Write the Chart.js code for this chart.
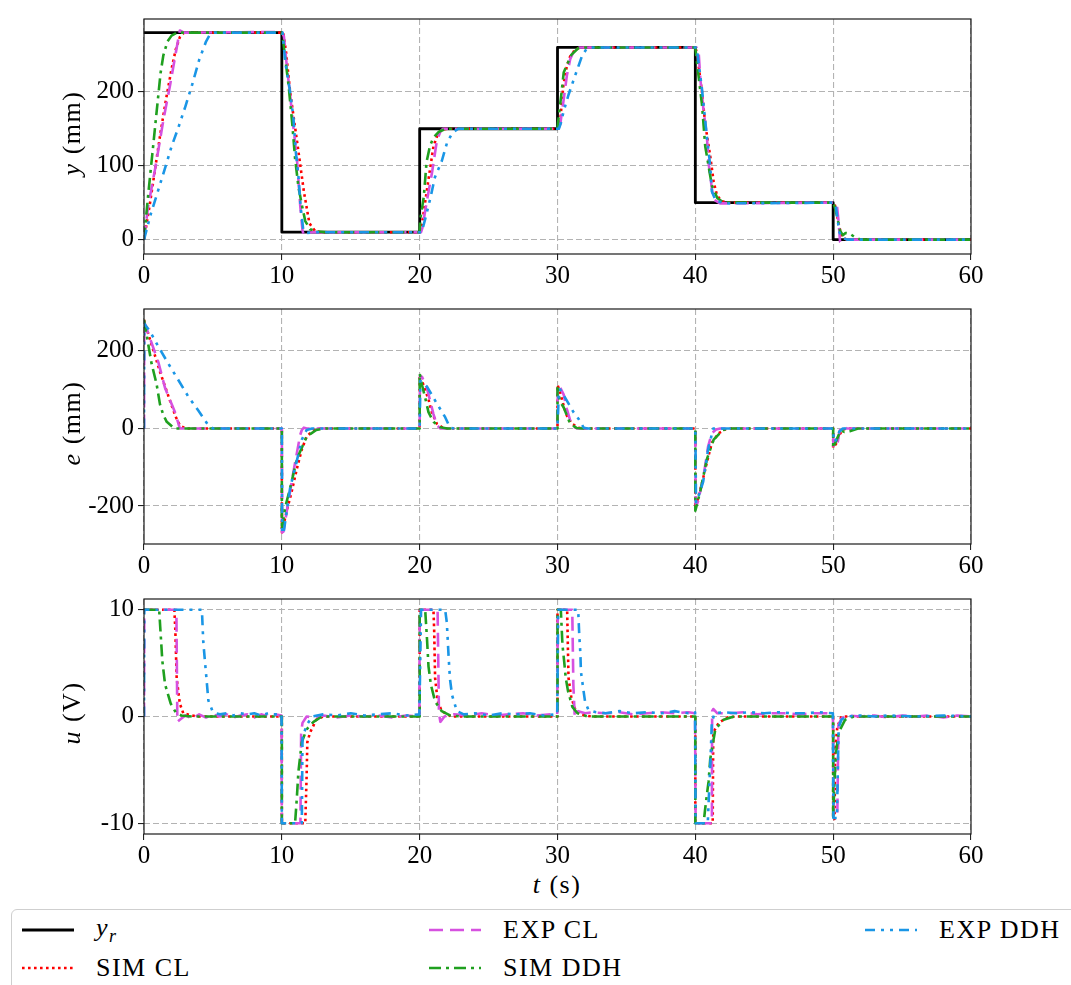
<!DOCTYPE html>
<html>
<head>
<meta charset="utf-8">
<script src="https://cdn.jsdelivr.net/npm/chart.js@4.4.1/dist/chart.umd.min.js"></script>
<style>
  html,body{margin:0;padding:0;background:#fff;}
  body{width:1071px;height:985px;position:relative;overflow:hidden;font-family:'Liberation Serif','Times New Roman',serif;color:#000;}
  canvas{position:absolute;left:0;}
  .ytitle{position:absolute;font-size:26px;letter-spacing:1.5px;white-space:nowrap;transform:translate(-50%,-50%) rotate(-90deg);}
  .xtitle{position:absolute;font-size:26px;letter-spacing:1.5px;white-space:nowrap;transform:translate(-50%,-50%);}
  #legend{position:absolute;left:11px;top:909px;width:1090px;height:120px;border:1px solid #cfcfcf;border-radius:6px;background:#fff;box-sizing:border-box;}
  .lg{position:absolute;font-size:26px;letter-spacing:1.5px;white-space:nowrap;transform:translateY(-50%);line-height:1;}
  .lgsvg{position:absolute;}
</style>
</head>
<body>
<canvas id="c1" width="1071" height="290" style="top:0px"></canvas>
<canvas id="c2" width="1071" height="290" style="top:290px"></canvas>
<canvas id="c3" width="1071" height="290" style="top:580px"></canvas>

<div class="ytitle" style="left:72px;top:133px"><i>y</i> (mm)</div>
<div class="ytitle" style="left:72px;top:423px"><i>e</i> (mm)</div>
<div class="ytitle" style="left:72px;top:713px"><i>u</i> (V)</div>
<div class="xtitle" style="left:557px;top:885px"><i>t</i> (s)</div>

<div id="legend"></div>

<script>
// ---------------- DATA ----------------
const xTicks = [0, 10, 20, 30, 40, 50, 60];
const yTicksY = [0, 100, 200];
const yTicksE = [-200, 0, 200];
const yTicksU = [-10, 0, 10];

const seriesNames = ["y_r", "SIM CL", "EXP CL", "SIM DDH", "EXP DDH"];

// reference y_r (time, value)
const refT = [0, 10, 10, 20, 20, 30, 30, 40, 40, 50, 50, 60];
const refY = [280, 280, 10, 10, 150, 150, 260, 260, 50, 50, 0, 0];

// ---- position y (mm): [t, y]
const simCL_y = [[0,0],[0.4,45],[0.8,95],[1.2,145],[1.6,190],[2.0,231],[2.3,257],[2.6,274],[2.9,280],
 [10.1,280],[10.3,255],[10.6,200],[11.2,120],[11.6,65],[12.0,22],[12.4,12],[12.8,10],
 [20.0,10],[20.1,14],[20.3,38],[20.5,64],[20.75,95],[21.0,126],[21.3,142],[21.6,149],[22.0,150],
 [30.0,150],[30.1,152],[30.2,161],[30.32,187],[30.43,209],[30.68,235],[30.92,248],[31.2,255],[31.5,259],[32.0,260],
 [40.0,260],[40.12,252],[40.48,200],[40.72,156],[41.08,113],[41.33,78],[41.57,60],[41.9,52],[42.5,50],
 [50.0,50],[50.1,48],[50.2,42],[50.39,22],[50.63,3],[51.0,0],[60,0]];
const expCL_y = [[0,0],[0.3,45],[0.8,95],[1.4,161],[1.9,210],[2.3,252],[2.6,283],[2.9,280],
 [10.0,281],[10.15,275],[10.36,235],[10.6,196],[10.84,152],[11.1,108],[11.33,47],[11.5,12],[11.6,6],[11.8,9],[12.2,10],
 [20.1,10],[20.2,16],[20.5,50],[20.9,91],[21.25,134],[21.5,146],[21.7,150],
 [30.05,150],[30.2,156],[30.43,187],[30.68,222],[30.92,244],[31.2,256],[31.5,260],
 [40.1,260],[40.23,257],[40.36,218],[40.6,174],[40.84,139],[40.96,104],[41.2,69],[41.33,54],[41.8,49],
 [50.05,50],[50.27,47],[50.39,25],[50.5,-3],[50.65,-4],[51.0,0],[60,0]];
const simDDH_y = [[0,0],[0.3,60],[0.6,115],[0.9,170],[1.2,225],[1.4,249],[1.7,268],[2.0,276],[2.4,280],
 [10.0,280],[10.1,268],[10.5,207],[10.75,158],[10.96,110],[11.2,72],[11.45,47],[11.7,25],[12.05,14],[12.6,11],[13.3,10],
 [20.0,10],[20.05,28],[20.3,58],[20.5,105],[20.75,127],[21.0,138],[21.4,146],[21.9,150],
 [30.0,150],[30.05,160],[30.3,200],[30.45,226],[30.7,237],[31.0,250],[31.5,259],[32.0,260],
 [40.0,260],[40.12,239],[40.48,183],[40.72,126],[41.2,73],[41.6,56],[42.0,51],[42.5,50],
 [50.0,50],[50.1,45],[50.3,30],[50.5,12],[50.7,6],[50.9,9],[51.2,8],[51.6,3],[52.0,0],[60,0]];
const expDDH_y = [[0,0],[0.5,35],[1.0,65],[1.5,95],[2.0,126],[2.5,152],[3.0,180],[3.5,210],[4.0,243],[4.5,268],[4.8,278],[5.1,280],
 [10.05,280],[10.25,240],[10.6,200],[10.84,165],[11.0,121],[11.2,87],[11.37,43],[11.55,14],[11.8,9],[12.4,10],
 [20.15,10],[20.5,35],[20.8,58],[21.1,84],[21.6,106],[22.0,132],[22.4,145],[22.8,150],
 [30.1,150],[30.25,158],[30.45,174],[30.8,196],[31.28,222],[31.77,248],[32.1,258],[32.4,260],
 [40.1,260],[40.24,239],[40.48,204],[40.84,139],[41.08,100],[41.2,65],[41.5,52],[42.4,49],
 [50.05,50],[50.2,44],[50.3,30],[50.45,10],[50.63,3],[51.0,0],[60,0]];

// ---- error e (mm): [t, e]
const simCL_e = [[0,280],[0.44,229],[1.16,146],[1.89,71],[2.3,30],[2.6,8],[3.0,0],
 [10.0,0],[10.0,-268],[10.36,-212],[10.72,-162],[11.09,-104],[11.45,-54],[11.8,-21],[12.3,-4],[12.8,0],
 [20.0,0],[20.0,137],[20.28,112],[20.64,75],[20.88,42],[21.25,12],[21.7,1],[22.0,0],
 [30.0,0],[30.0,112],[30.2,92],[30.45,58],[30.68,33],[31.04,12],[31.6,1],[32.0,0],
 [40.0,0],[40.0,-205],[40.05,-198],[40.45,-146],[40.84,-87],[41.2,-37],[41.7,-12],[42.2,-2],[42.5,0],
 [50.0,0],[50.0,-50],[50.2,-40],[50.4,-20],[50.7,-3],[51.0,0],[60,0]];
const expCL_e = [[0,0],[0.02,275],[0.3,246],[1.04,171],[1.53,104],[2.25,42],[2.6,0],
 [10.0,0],[10.02,-268],[10.12,-266],[10.48,-187],[10.84,-112],[11.33,-17],[11.45,-4],[11.6,2],[11.8,0],
 [20.0,0],[20.02,136],[20.17,133],[20.53,104],[20.76,71],[21.0,37],[21.25,8],[21.5,0],
 [30.0,0],[30.02,110],[30.1,112],[30.45,87],[30.68,50],[30.92,21],[31.16,4],[31.4,0],
 [40.0,0],[40.02,-195],[40.1,-197],[40.2,-187],[40.57,-129],[40.93,-46],[41.2,-12],[41.5,-3],[41.8,0],
 [50.0,0],[50.02,-48],[50.3,-42],[50.45,-10],[50.55,3],[50.7,4],[51.0,0],[60,0]];
const simDDH_e = [[0,280],[0.55,167],[0.91,115],[1.16,62],[1.4,35],[1.65,17],[2.2,0],
 [10.0,0],[10.0,-262],[10.24,-204],[10.6,-154],[11.09,-79],[11.8,-21],[12.5,-4],[13.2,0],
 [20.0,0],[20.0,142],[20.17,112],[20.4,79],[20.64,42],[21.0,17],[21.5,3],[22.0,0],
 [30.0,0],[30.0,104],[30.17,71],[30.45,54],[30.92,12],[31.4,1],[31.8,0],
 [40.0,0],[40.0,-212],[40.36,-162],[40.84,-79],[41.33,-29],[42.0,-4],[42.5,0],
 [50.0,0],[50.0,-50],[50.3,-25],[50.55,-5],[50.8,-9],[51.2,-7],[51.8,0],[60,0]];
const expDDH_e = [[0,0],[0.02,270],[0.44,250],[1.04,211],[1.8,165],[2.49,125],[3.2,83],[3.94,46],[4.67,8],[5.0,0],
 [10.0,0],[10.02,-270],[10.12,-271],[10.6,-154],[11.09,-83],[11.45,-29],[11.8,-4],[12.2,0],
 [20.0,0],[20.05,122],[20.17,121],[20.53,108],[21.2,67],[21.85,29],[22.2,2],[22.5,0],
 [30.0,0],[30.1,100],[30.2,100],[30.56,79],[31.16,42],[31.52,25],[31.9,2],[32.2,0],
 [40.0,0],[40.05,-190],[40.2,-179],[40.57,-137],[40.93,-54],[41.3,0],
 [50.0,0],[50.05,-35],[50.2,-30],[50.45,-8],[50.7,0],[60,0]];

// ---- control u (V): [t, u]
const simCL_u = [[0,10],[2.2,10],[2.27,8.2],[2.37,3.6],[2.6,1.2],[2.85,0.3],[3.8,0],
 [10.0,0],[10.0,-10],[11.7,-10],[11.8,-5.5],[11.85,-2.4],[12.05,-1.5],[12.5,-0.3],[13.0,0],
 [20.0,0],[20.0,10],[21.0,10],[21.05,8.2],[21.12,3.6],[21.3,1.5],[21.6,0.5],[22.3,0],
 [30.0,0],[30.0,10],[30.7,10],[30.75,6.7],[30.8,3.6],[31.0,1.8],[31.3,0.6],[31.7,0.15],[32.5,0],
 [40.0,0],[40.0,-10],[41.26,-10],[41.3,-1.5],[41.7,-0.6],[42.3,-0.1],[43.0,0],
 [50.0,0],[50.0,-9.6],[50.1,-9.6],[50.15,-3],[50.3,-1],[50.6,0],[60,0]];
const expCL_u = [[0,0],[0.02,10],[2.35,10],[2.42,-0.5],[2.6,-0.3],[3,0.1],[3.5,-0.2],[4,0.2],[4.5,-0.1],[5,0.2],[5.5,0],[6,0.2],[6.5,-0.1],[7,0.1],[7.5,0.2],[8,-0.1],[8.5,0.2],[9,0],[9.5,0.2],[9.98,0.1],
 [10.0,-10],[11.35,-10],[11.4,-1.5],[11.5,-0.6],[11.8,0],[12.3,-0.1],[13,0.1],[14,-0.1],[15,0.1],[16,0],[17,0.1],[18,-0.1],[19,0.1],[19.98,0],
 [20.0,10],[21.3,10],[21.4,0.3],[21.5,-0.5],[21.8,0],[22.5,0.2],[23.5,0.1],[24.5,0.3],[25.5,0.1],[26.5,0.2],[27.5,0.3],[28.5,0.1],[29.5,0.2],[29.98,0.2],
 [30.02,10],[31.07,10],[31.15,3],[31.25,0],[31.5,0.5],[32,0.3],[32.5,0.4],[33.5,0.3],[34.5,0.4],[35.5,0.2],[36.5,0.3],[37.5,0.4],[38.5,0.3],[39.5,0.4],[39.98,0.3],
 [40.02,-10],[41.2,-10],[41.22,0.5],[41.3,0.7],[41.6,0.3],[42.5,0.3],[43.5,0.4],[44.5,0.2],[45.5,0.3],[46.5,0.3],[47.5,0.2],[48.5,0.3],[49.5,0.3],[49.98,0.2],
 [50.05,-9],[50.3,-9.3],[50.38,-0.8],[50.6,-0.2],[51,0.1],[52,0],[53,0.1],[54,-0.1],[55,0.1],[56,0],[57,0.1],[58,-0.1],[59,0.1],[60,0]];
const simDDH_u = [[0,10],[1.1,10],[1.2,7.9],[1.33,5.2],[1.53,3.0],[1.94,1.2],[2.3,0.4],[2.7,0.1],[3.5,0],
 [10.0,0],[10.0,-10],[10.96,-10],[11.09,-7.6],[11.2,-5.2],[11.45,-2.4],[11.8,-1.2],[12.3,-0.5],[12.9,0],
 [20.0,0],[20.0,10],[20.4,10],[20.53,7.3],[20.64,4.7],[20.81,3.0],[21.12,1.4],[21.6,0.5],[22.2,0.1],[23.0,0],
 [30.0,0],[30.0,10],[30.24,10],[30.36,6.7],[30.48,5.2],[30.6,3.6],[30.76,2.4],[31.08,0.9],[31.45,0.3],[32.2,0],
 [40.0,0],[40.0,-10],[40.6,-10],[40.7,-8.8],[40.84,-7.3],[40.96,-6.1],[41.08,-4.0],[41.45,-1.2],[42.05,-0.3],[42.8,0],
 [50.0,0],[50.0,-9.4],[50.1,-6],[50.2,-3.5],[50.4,-1.5],[50.87,-0.3],[51.5,0],[60,0]];
const expDDH_u = [[0,0],[0.02,10],[4.2,10],[4.3,7],[4.42,5.2],[4.55,3.3],[4.67,1.5],[5.0,0.4],[5.5,0.2],[6,0.3],[6.5,0.1],[7,0.3],[7.5,0.2],[8,0.3],[8.5,0.1],[9,0.3],[9.5,0.2],[9.98,0.2],
 [10.0,-10],[11.45,-10],[11.5,-2],[11.8,-0.8],[12.2,0],[13,0.2],[14,0.1],[15,0.3],[16,0.1],[17,0.2],[18,0.3],[19,0.1],[19.98,0.2],
 [20.1,10],[21.85,10],[21.97,8.8],[22.1,5.6],[22.2,3.5],[22.35,2.0],[22.7,0.5],[23.2,0.2],[24,0.3],[25,0.1],[26,0.3],[27,0.2],[28,0.3],[29,0.1],[29.98,0.2],
 [30.05,10],[31.5,10],[31.58,7.6],[31.66,5.9],[31.7,4.2],[31.9,2.3],[32.0,1.4],[32.25,0.6],[32.8,0.4],[33.5,0.3],[34.5,0.5],[35.5,0.3],[36.5,0.4],[37.5,0.3],[38.5,0.5],[39.5,0.3],[39.98,0.4],
 [40.02,-10],[40.9,-10],[41.1,-4],[41.2,-0.5],[41.4,0.3],[42,0.4],[43,0.3],[44,0.4],[45,0.3],[46,0.4],[47,0.3],[48,0.3],[49,0.4],[49.98,0.3],
 [50.02,-9.5],[50.27,-9.5],[50.4,-1],[50.6,-0.3],[51,0],[52,0.1],[53,0],[54,0.1],[56,0],[58,0.1],[60,0]];

// ---------------- STYLE ----------------
const FONT = "'Liberation Serif','Times New Roman',serif";
const STY = {
  ref:    {color:'#000000', dash:[],              width:2.8, order:4},
  simCL:  {color:'#ff0000', dash:[2.6,3.4],       width:2.6, order:3},
  expCL:  {color:'#d651e0', dash:[14,7],          width:2.6, order:2},
  simDDH: {color:'#1fa01f', dash:[12,5,3,5],      width:2.6, order:1},
  expDDH: {color:'#1a96e6', dash:[10,6,3,6,3,6],  width:2.6, order:0}
};

function ds(pairs, s) {
  return {
    data: pairs.map(p => ({x:p[0], y:p[1]})),
    borderColor: s.color, borderWidth: s.width, borderDash: s.dash,
    pointRadius: 0, fill: false, tension: 0, order: s.order,
    borderCapStyle: 'butt', borderJoinStyle: 'round'
  };
}

const framePlugin = {
  id: 'frame',
  afterDraw(chart) {
    const a = chart.chartArea, ctx = chart.ctx;
    ctx.save();
    ctx.strokeStyle = '#1a1a1a';
    ctx.lineWidth = 1.2;
    ctx.strokeRect(a.left, a.top, a.right - a.left, a.bottom - a.top);
    ctx.restore();
  }
};

function makeChart(id, datasets, yMin, yMax, yTicks) {
  return new Chart(document.getElementById(id), {
    type: 'line',
    data: {datasets},
    options: {
      responsive: false, animation: false, devicePixelRatio: 1,
      layout: {padding: {top: 12, right: 100, left: 0, bottom: 0}},
      plugins: {legend: {display: false}, tooltip: {enabled: false}},
      scales: {
        x: {
          type: 'linear', min: 0, max: 60,
          afterBuildTicks: s => { s.ticks = xTicks.map(v => ({value: v})); },
          afterFit: s => { s.height = 36; },
          grid: {color: '#b3b3b3', lineWidth: 1.1, drawTicks: true, tickLength: 6, tickColor: '#222', tickWidth: 1.1, tickBorderDash: []},
          border: {display: false, dash: [6, 3]},
          ticks: {color: '#000', font: {family: FONT, size: 25}, padding: 1, maxRotation: 0, autoSkip: false}
        },
        y: {
          type: 'linear', min: yMin, max: yMax,
          afterBuildTicks: s => { s.ticks = yTicks.map(v => ({value: v})); },
          afterFit: s => { s.width = 144; },
          grid: {color: '#b3b3b3', lineWidth: 1.1, drawTicks: true, tickLength: 6, tickColor: '#222', tickWidth: 1.1, tickBorderDash: []},
          border: {display: false, dash: [6, 3]},
          ticks: {color: '#000', font: {family: FONT, size: 25}, padding: 4, autoSkip: false}
        }
      }
    },
    plugins: [framePlugin]
  });
}

const refPairs = refT.map((t, i) => [t, refY[i]]);

makeChart('c1', [
  ds(refPairs, STY.ref), ds(simCL_y, STY.simCL), ds(expCL_y, STY.expCL), ds(simDDH_y, STY.simDDH), ds(expDDH_y, STY.expDDH)
], -19.5, 298.5, yTicksY);

makeChart('c2', [
  ds(simCL_e, STY.simCL), ds(expCL_e, STY.expCL), ds(simDDH_e, STY.simDDH), ds(expDDH_e, STY.expDDH)
], -298, 308, yTicksE);

makeChart('c3', [
  ds(simCL_u, STY.simCL), ds(expCL_u, STY.expCL), ds(simDDH_u, STY.simDDH), ds(expDDH_u, STY.expDDH)
], -11, 11, yTicksU);

// ---------------- LEGEND (HTML) ----------------
const legendItems = [
  {key:'ref',    label:'<i>y</i><sub style="font-size:18px;font-style:italic;vertical-align:-6px">r</sub>', lx:10, ty:20},
  {key:'simCL',  label:'SIM CL',  lx:10,  ty:58},
  {key:'expCL',  label:'EXP CL',  lx:417, ty:20},
  {key:'simDDH', label:'SIM DDH', lx:417, ty:58},
  {key:'expDDH', label:'EXP DDH', lx:853, ty:20}
];
const leg = document.getElementById('legend');
legendItems.forEach(it => {
  const s = STY[it.key];
  const svg = document.createElementNS('http://www.w3.org/2000/svg','svg');
  svg.setAttribute('width','56'); svg.setAttribute('height','10');
  svg.setAttribute('class','lgsvg');
  svg.style.left = it.lx + 'px'; svg.style.top = (it.ty - 5) + 'px';
  const ln = document.createElementNS('http://www.w3.org/2000/svg','line');
  ln.setAttribute('x1','0'); ln.setAttribute('x2','52'); ln.setAttribute('y1','5'); ln.setAttribute('y2','5');
  ln.setAttribute('stroke', s.color); ln.setAttribute('stroke-width', s.width);
  if (s.dash.length) ln.setAttribute('stroke-dasharray', s.dash.join(' '));
  svg.appendChild(ln);
  leg.appendChild(svg);
  const d = document.createElement('div');
  d.className = 'lg';
  d.innerHTML = it.label;
  d.style.left = (it.lx + 74) + 'px'; d.style.top = it.ty + 'px';
  leg.appendChild(d);
});
</script>
</body>
</html>
